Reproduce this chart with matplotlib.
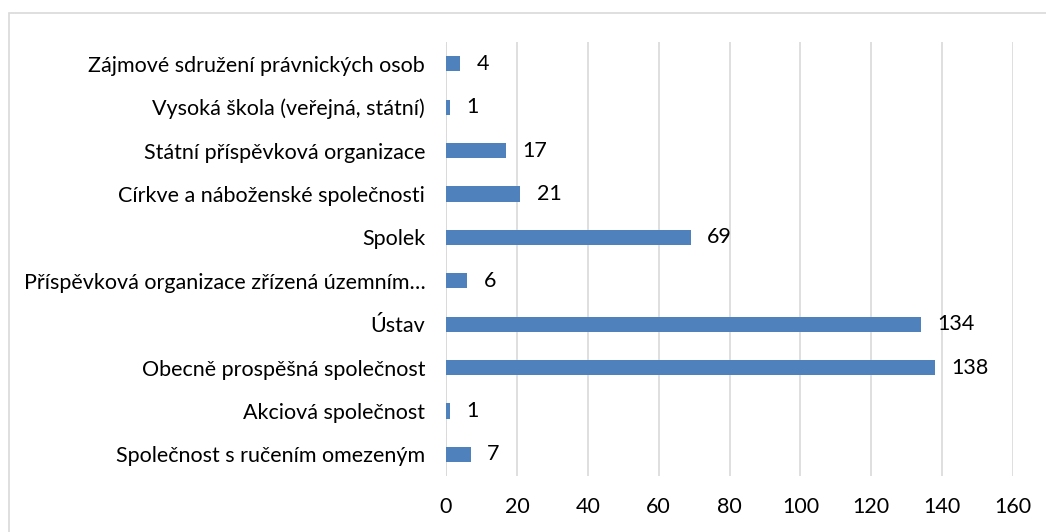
import matplotlib.pyplot as plt
from matplotlib.patches import Rectangle

categories = [
    "Společnost s ručením omezeným",
    "Akciová společnost",
    "Obecně prospěšná společnost",
    "Ústav",
    "Příspěvková organizace zřízená územním…",
    "Spolek",
    "Církve a náboženské společnosti",
    "Státní příspěvková organizace",
    "Vysoká škola (veřejná, státní)",
    "Zájmové sdružení právnických osob",
]
values = [7, 1, 138, 134, 6, 69, 21, 17, 1, 4]
xticks = [0, 20, 40, 60, 80, 100, 120, 140, 160]

plt.rcParams['font.family'] = ['Lato', 'DejaVu Sans']
fs = 15.5

fig = plt.figure(figsize=(10.46, 5.32), dpi=100)
ax = fig.add_axes([0.4264, 0.105, 0.5421, 0.816])

pos = range(len(categories))
ax.barh(pos, values, height=0.35, color='#4F81BD', zorder=3)
for p, v in zip(pos, values):
    ax.text(v + 4.6, p, str(v), va='center', ha='left', fontsize=fs, color='black')

ax.set_xlim(0, 160)
ax.set_ylim(-0.5, len(categories) - 0.5)
ax.set_xticks(xticks)
ax.set_yticks(list(pos))
ax.set_yticklabels(categories, fontsize=fs)
ax.tick_params(axis='x', labelsize=fs, length=0, pad=15)
ax.tick_params(axis='y', length=0, pad=15)
ax.grid(axis='x', color='#D9D9D9', linewidth=1.2, zorder=0)
for s in ax.spines.values():
    s.set_visible(False)
ax.axvline(0, color='#D9D9D9', linewidth=1.2, zorder=1)

# chart border
fig.patches.append(Rectangle((9 / 1046, -0.1), 1.2, 1 - 12.5 / 532 + 0.1,
                             transform=fig.transFigure, fill=False,
                             edgecolor='#D9D9D9', linewidth=1.2))

fig.savefig('out.png', dpi=100)
